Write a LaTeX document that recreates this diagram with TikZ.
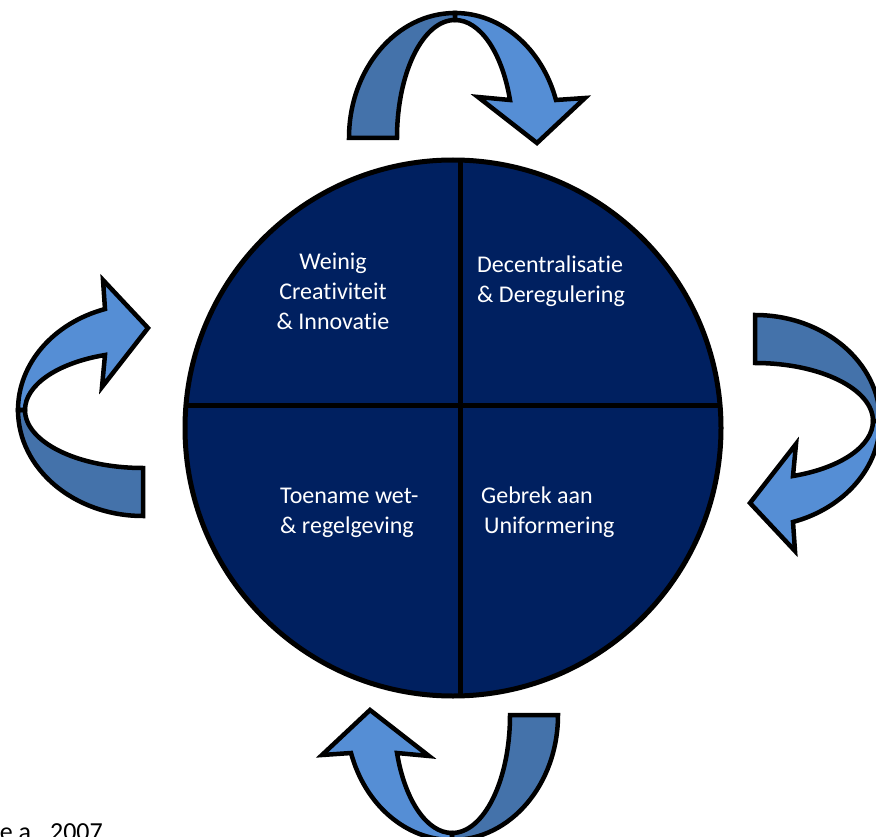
\documentclass[tikz,border=0pt]{standalone}
\usepackage{fontspec}
\setmainfont{Carlito}[RawFeature=-liga]
\usepackage{tikz}
\usetikzlibrary{positioning}
\definecolor{navy}{RGB}{0, 32, 96}
\definecolor{bandfront}{RGB}{85, 142, 213}
\definecolor{bandback}{RGB}{68, 114, 170}
\tikzstyle{backband} = [draw=black, fill=bandback, line width=4.5pt]
\tikzstyle{frontband} = [draw=black, fill=bandfront, line width=4.5pt]
\tikzstyle{divider} = [draw=black, line width=5pt]
\tikzstyle{label} = [text=white, font=\fontsize{24}{30}\selectfont, inner sep=0pt]
% curved ribbon arrow: #1,#2 = position, #3 = rotation
\newcommand{\bentarrow}[3]{%
  \begin{scope}[shift={(#1,#2)}, rotate=#3]
    \draw[backband] (-106,0) arc[start angle=180, end angle=90, x radius=106pt, y radius=125pt]
      -- (0,118) arc[start angle=90, end angle=180, x radius=58pt, y radius=118pt] -- cycle;
    \draw[frontband] (0,125) arc[start angle=90, end angle=17.7, x radius=106pt, y radius=125pt]
      -- (130,40) -- (82,-5) -- (23,41) -- (55,38)
      arc[start angle=18.8, end angle=90, x radius=58pt, y radius=118pt] -- cycle;
  \end{scope}}

\begin{document}
\begin{tikzpicture}[x=1pt, y=1pt]
    \useasboundingbox (0,0) rectangle (876,-837);

    % the four turning arrows
    \bentarrow{455}{-138}{0}
    \bentarrow{755}{-421}{-90}
    \bentarrow{452}{-715}{180}
    \bentarrow{143}{-410}{90}

    % the wheel
    \coordinate (hub) at (453,-428);
    \fill[navy] (hub) circle[radius=268pt];
    \begin{scope}
        \clip (hub) circle[radius=268pt];
        \draw[divider] (460,-140) -- (460,-720);
        \draw[divider] (170,-405) -- (740,-405);
    \end{scope}
    \draw[black, line width=5pt] (hub) circle[radius=268pt];

    % quadrant texts (anchored on the last line)
    \node (weinig) [label, align=center, anchor=base] at (333,-329) {Weinig\\Creativiteit\\\& Innovatie};
    \node (decentraal) [label, align=left, anchor=base west] at (477,-302) {Decentralisatie\\\& Deregulering};
    \node (toename) [label, align=left, anchor=base west] at (280,-533) {Toename wet-\\\& regelgeving};
    \node (gebrek) [label, align=left, anchor=base west] at (481,-533) {Gebrek aan\\\hspace{3pt}Uniformering};

    \node (bron) [font=\fontsize{26}{30}\selectfont, inner sep=0pt, anchor=base east] at (103,-840) {e a., 2007};
\end{tikzpicture}
\end{document}
